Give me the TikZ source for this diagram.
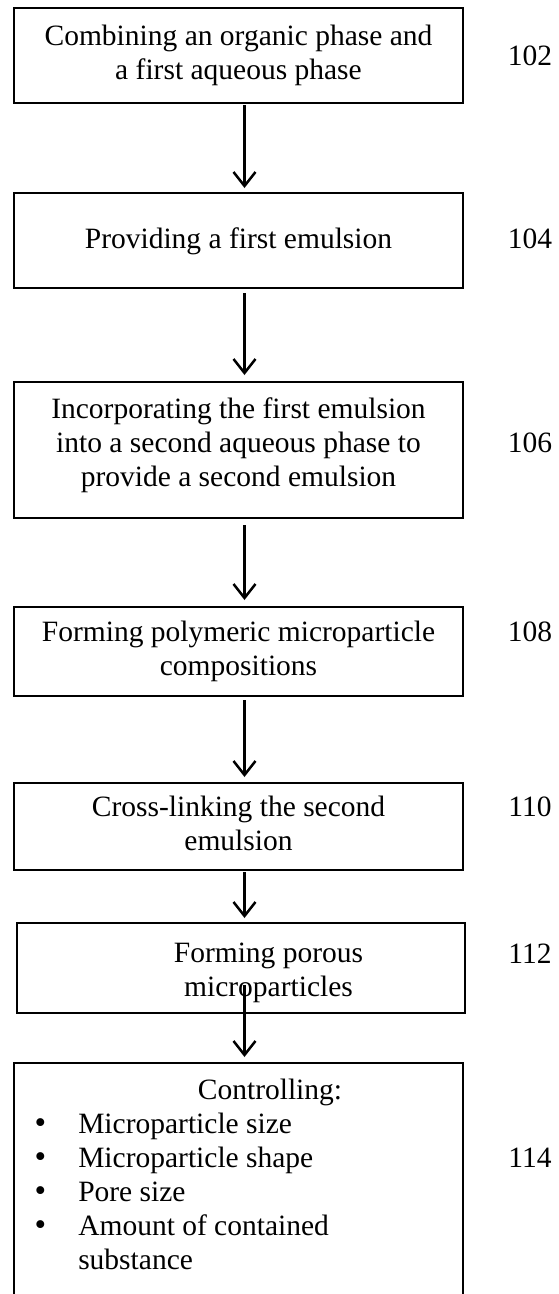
\documentclass[tikz,border=0pt]{standalone}
\usepackage{fontspec}
\setmainfont{Liberation Serif}
\usetikzlibrary{arrows.meta}
\newcommand{\mybul}{{\fontsize{33}{34}\selectfont\textbullet}}
\begin{document}
\begin{tikzpicture}[x=1pt,y=-1pt,
  stepbox/.style={draw,line width=2pt,rectangle,inner sep=0pt,outer sep=0pt},
  txt/.style={font=\fontsize{29.5}{34}\selectfont,inner sep=0pt,align=center,anchor=north},
  lbl/.style={font=\fontsize{29.5}{34}\selectfont,inner sep=0pt,anchor=base},
  arr/.style={line width=2.5pt,-{Straight Barb[length=14pt,width=22pt]}}]
\clip (0,0) rectangle (558,1294);
% boxes
\node[stepbox,minimum width=449pt,minimum height=95pt] (b1) at (238.5,55.5) {};
\node[stepbox,minimum width=449pt,minimum height=95pt] (b2) at (238.5,240.5) {};
\node[stepbox,minimum width=449pt,minimum height=136pt] (b3) at (238.5,450) {};
\node[stepbox,minimum width=449pt,minimum height=89pt] (b4) at (238.5,651.5) {};
\node[stepbox,minimum width=449pt,minimum height=87pt] (b5) at (238.5,826.5) {};
\node[stepbox,minimum width=448pt,minimum height=90pt] (b6) at (241,968) {};
\node[stepbox,minimum width=449pt,minimum height=267pt] (b7) at (238.5,1196.5) {};
% texts
\node[txt] (t1) at (238.5,25) {Combining an organic phase and\\a first aqueous phase};
\node[txt] (t2) at (238.5,228) {Providing a first emulsion};
\node[txt] (t3) at (238.5,398) {Incorporating the first emulsion\\into a second aqueous phase to\\provide a second emulsion};
\node[txt] (t4) at (238.5,621) {Forming polymeric microparticle\\compositions};
\node[txt] (t5) at (238.5,796) {Cross-linking the second\\emulsion};
\node[txt] (t6) at (268.5,943) {Forming porous\\microparticles};
\node[txt] (t7) at (270,1079) {Controlling:};
\node[txt,anchor=north west,align=left] (t7l) at (34.5,1109.2) {%
  \begin{tabular}{@{}l@{\hspace{32pt}}l@{}}
  \mybul & Microparticle size\\
  \mybul & Microparticle shape\\
  \mybul & Pore size\\
  \mybul & Amount of contained\\
   & substance
  \end{tabular}};
% labels
\node[lbl] (l102) at (530,65.5) {102};
\node[lbl] (l104) at (530,248) {104};
\node[lbl] (l106) at (530,452) {106};
\node[lbl] (l108) at (530,641) {108};
\node[lbl] (l110) at (530,816) {110};
\node[lbl] (l112) at (530,963) {112};
\node[lbl] (l114) at (530,1167) {114};
% arrows
\draw[arr,shorten <=2pt,shorten >=5pt] ([xshift=6pt]b1.south) -- ([xshift=6pt]b2.north);
\draw[arr,shorten <=5pt,shorten >=7pt] ([xshift=6pt]b2.south) -- ([xshift=6pt]b3.north);
\draw[arr,shorten <=7pt,shorten >=7pt] ([xshift=6pt]b3.south) -- ([xshift=6pt]b4.north);
\draw[arr,shorten <=4pt,shorten >=6pt] ([xshift=6pt]b4.south) -- ([xshift=6pt]b5.north);
\draw[arr,shorten <=2pt,shorten >=5pt] ([xshift=6pt]b5.south) -- ([xshift=3.5pt]b6.north);
\coordinate (a6s) at ([xshift=3.5pt,yshift=28pt]b6.south);
\draw[arr,shorten >=6pt] (a6s) -- ([xshift=6pt]b7.north);
\end{tikzpicture}
\end{document}
